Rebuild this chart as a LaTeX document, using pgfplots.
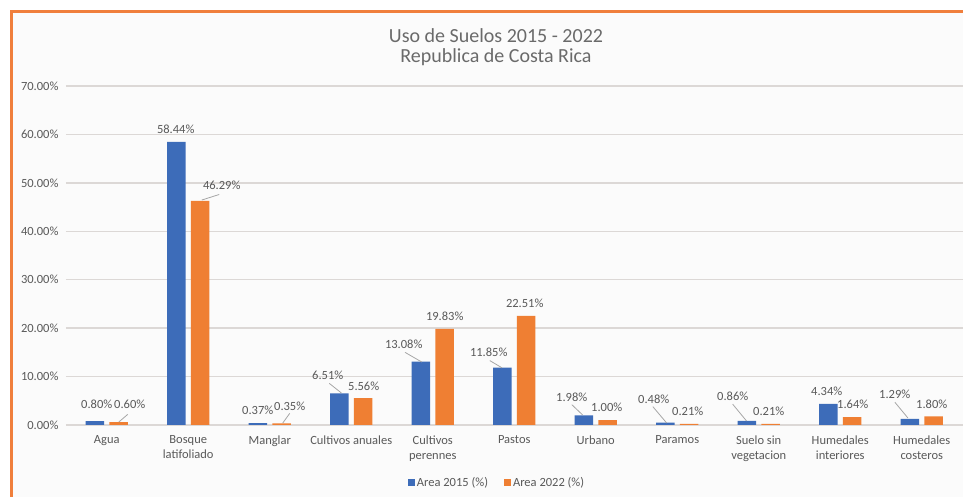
\documentclass[border=0pt]{standalone}
\usepackage{pgfplots}
\pgfplotsset{compat=1.18}
\usepackage{fontspec}
\setmainfont{Carlito}
\definecolor{cblue}{HTML}{3D6CB9}
\definecolor{corange}{HTML}{EF7F33}
\definecolor{txt}{HTML}{595959}
\definecolor{ttl}{HTML}{6A6A6A}
\definecolor{gridc}{HTML}{DCD8D6}
\definecolor{bord}{HTML}{F07F3C}
\definecolor{bg}{HTML}{FBFBFB}
\definecolor{ldrc}{HTML}{A6A6A6}
\begin{document}
\begin{tikzpicture}[x=1pt,y=1pt,
  dl/.style={font=\fontsize{12.5}{14}\selectfont, text=txt, inner sep=0pt},
  ldr/.style={ldrc, line width=0.8pt}]
\useasboundingbox (0,0) rectangle (963,497);
\fill[white] (0,0) rectangle (963,497);
\filldraw[fill=bg,draw=bord,line width=3pt] (11.5,-10) rectangle (985,485);
\node[font=\fontsize{20}{24}\selectfont, text=ttl] at (496,461) {Uso de Suelos 2015 - 2022};
\node[font=\fontsize{20}{24}\selectfont, text=ttl] at (496,440) {Republica de Costa Rica};
\begin{axis}[
  at={(66pt,72pt)}, anchor=south west,
  scale only axis, width=896.5pt, height=339pt,
  xmin=-0.5, xmax=10.5, ymin=0, ymax=70,
  clip=false,
  axis line style={draw=none},
  major tick length=0pt,
  ymajorgrids, grid style={gridc, line width=1.3pt},
  ytick={0,10,...,70},
  yticklabels={0.00\%,10.00\%,20.00\%,30.00\%,40.00\%,50.00\%,60.00\%,70.00\%},
  xtick={0,...,10},
  xticklabels={Agua,{Bosque\\latifoliado},Manglar,{Cultivos anuales},{Cultivos\\perennes},Pastos,Urbano,Paramos,{Suelo sin\\vegetacion},{Humedales\\interiores},{Humedales\\costeros}},
  xticklabel style={align=center, font=\fontsize{12.5}{15}\selectfont, text=txt, yshift=-7pt},
  yticklabel style={font=\fontsize{12.5}{14}\selectfont, text=txt, xshift=-4pt},
  legend style={at={(0.4808,-0.171)}, anchor=center, draw=none, fill=none,
    legend columns=2, font=\fontsize{12.5}{14}\selectfont, text=txt,
    /tikz/every even column/.append style={column sep=14pt}},
  legend image code/.code={\fill[#1] (0pt,-3.5pt) rectangle (7pt,3.5pt);},
]
\addplot[ybar, bar width=0.227, bar shift=-0.147, fill=cblue, draw=none] coordinates {
(0,0.80) (1,58.44) (2,0.37) (3,6.51) (4,13.08) (5,11.85) (6,1.98) (7,0.48) (8,0.86) (9,4.34) (10,1.29)};
\addlegendentry{Area 2015 (\%)}
\addplot[ybar, bar width=0.227, bar shift=0.147, fill=corange, draw=none] coordinates {
(0,0.60) (1,46.29) (2,0.35) (3,5.56) (4,19.83) (5,22.51) (6,1.00) (7,0.21) (8,0.21) (9,1.64) (10,1.80)};
\addlegendentry{Area 2022 (\%)}
% leader lines
\draw[ldr] (axis cs:0.147,0.6) -- (axis cs:0.258,2.2);
\draw[ldr] (axis cs:1.166,46.45) -- (axis cs:1.38,47.6);
\draw[ldr] (axis cs:2.16,0.41) -- (axis cs:2.245,2.4);
\draw[ldr] (axis cs:2.88,6.6) -- (axis cs:2.73,8.6);
\draw[ldr] (axis cs:3.865,13.0) -- (axis cs:3.66,15.0);
\draw[ldr] (axis cs:4.85,11.8) -- (axis cs:4.70,13.3);
\draw[ldr] (axis cs:5.84,2.06) -- (axis cs:5.706,4.2);
\draw[ldr] (axis cs:6.87,0.41) -- (axis cs:6.70,3.8);
\draw[ldr] (axis cs:7.85,0.83) -- (axis cs:7.68,4.3);
\draw[ldr] (axis cs:9.83,1.45) -- (axis cs:9.67,4.7);
% data labels
\node[dl] at (axis cs:-0.123,4.34) {0.80\%};
\node[dl] at (axis cs:0.282,4.34) {0.60\%};
\node[dl] at (axis cs:0.847,61.1) {58.44\%};
\node[dl] at (axis cs:1.411,49.6) {46.29\%};
\node[dl] at (axis cs:1.853,3.10) {0.37\%};
\node[dl] at (axis cs:2.245,3.92) {0.35\%};
\node[dl] at (axis cs:2.712,10.32) {6.51\%};
\node[dl] at (axis cs:3.153,8.05) {5.56\%};
\node[dl] at (axis cs:3.644,16.7) {13.08\%};
\node[dl] at (axis cs:4.147,22.5) {19.83\%};
\node[dl] at (axis cs:4.687,15.1) {11.85\%};
\node[dl] at (axis cs:5.129,25.2) {22.51\%};
\node[dl] at (axis cs:5.706,5.78) {1.98\%};
\node[dl] at (axis cs:6.135,3.72) {1.00\%};
\node[dl] at (axis cs:6.712,5.37) {0.48\%};
\node[dl] at (axis cs:7.129,2.89) {0.21\%};
\node[dl] at (axis cs:7.681,5.99) {0.86\%};
\node[dl] at (axis cs:8.123,2.89) {0.21\%};
\node[dl] at (axis cs:8.834,7.02) {4.34\%};
\node[dl] at (axis cs:9.153,4.34) {1.64\%};
\node[dl] at (axis cs:9.669,6.40) {1.29\%};
\node[dl] at (axis cs:10.123,4.34) {1.80\%};
\end{axis}
\end{tikzpicture}
\end{document}
